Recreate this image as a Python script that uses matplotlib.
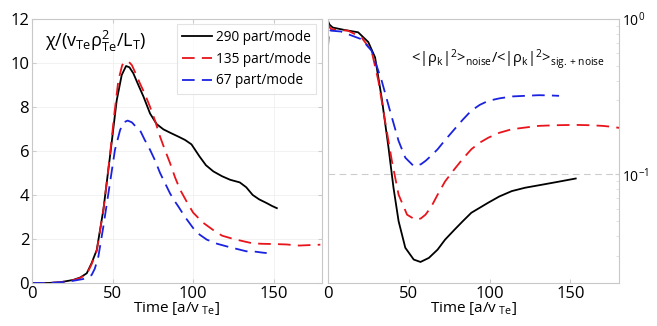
import numpy as np
import matplotlib.pyplot as plt

plt.rcParams['font.family'] = ['Open Sans', 'DejaVu Sans']
plt.rcParams['mathtext.fontset'] = 'custom'
plt.rcParams['mathtext.rm'] = 'Open Sans'
plt.rcParams['mathtext.it'] = 'Open Sans'

# 左图: chi 随时间变化
t_290 = [0, 10, 17.4, 25.7, 30, 34, 37, 40.2, 44.3, 48.4, 52.6, 55.7, 58.4, 60.5, 62.9, 66, 69.2, 73.3, 77.4,
         81.6, 86, 90.9, 95, 99, 104, 108, 112.6, 118, 123, 129, 133, 137, 141, 145.7, 149, 152]
chi_290 = [0, 0, 0.03, 0.14, 0.25, 0.44, 0.9, 1.5, 3.32, 5.74, 8.3, 9.45, 9.86, 9.8, 9.53, 9.0, 8.47, 7.7, 7.22,
           6.98, 6.82, 6.65, 6.5, 6.3, 5.75, 5.35, 5.07, 4.85, 4.69, 4.57, 4.35, 4.0, 3.8, 3.63, 3.5, 3.4]
t_135 = [0, 10, 17.4, 25.7, 30, 34, 37, 40.2, 44.3, 48.4, 51, 53.6, 56, 58, 60, 62, 64.5, 67, 70, 73.3, 76.5,
         79.5, 82.5, 85.7, 88.8, 92, 96, 100, 106, 112.6, 118, 125, 131, 137, 143, 150, 158, 166, 172, 179]
chi_135 = [0, 0, 0.03, 0.13, 0.23, 0.4, 0.85, 1.45, 3.3, 5.8, 7.6, 9.2, 9.9, 10.06, 10.06, 9.9, 9.5, 9.07, 8.6,
           8.0, 7.35, 6.65, 6.05, 5.45, 4.8, 4.23, 3.7, 3.2, 2.75, 2.4, 2.15, 2.0, 1.9, 1.8, 1.78, 1.77, 1.75,
           1.7, 1.72, 1.74]
t_67 = [0, 10, 17.4, 25.7, 31.8, 35, 37, 39, 41.2, 44.3, 48.4, 51.5, 54.7, 57, 59.4, 62, 64.5, 67, 70, 73.3,
        76.5, 79.5, 82.5, 85.7, 88.3, 90.9, 95, 100, 104, 108.5, 115, 121, 127, 133, 139, 143, 145.7]
chi_67 = [0, 0, 0.03, 0.1, 0.18, 0.28, 0.36, 0.65, 1.2, 2.56, 4.54, 6.05, 6.95, 7.3, 7.38, 7.3, 7.1, 6.95, 6.5,
          6.05, 5.55, 5.0, 4.55, 4.07, 3.75, 3.47, 3.0, 2.5, 2.2, 1.97, 1.78, 1.66, 1.55, 1.44, 1.42, 1.38, 1.36]

# 右图: 噪声比例
r_t290 = [0, 1, 3, 10, 18.75, 25, 29.2, 33.3, 37.5, 40.6, 43.75, 47.9, 53.1, 57.3, 62.5, 67.9, 72.5, 78.3,
          83.5, 88.75, 94, 99.2, 106, 113.75, 122, 130.4, 141, 153.3]
r_290 = [0.975, 0.92, 0.88, 0.85, 0.82, 0.71, 0.566, 0.31, 0.149, 0.082, 0.05, 0.0337, 0.0283, 0.0273, 0.029,
         0.0328, 0.038, 0.044, 0.05, 0.0566, 0.061, 0.0657, 0.072, 0.078, 0.082, 0.085, 0.089, 0.094]
r_t135 = [0, 0.5, 2, 6, 12.5, 20.8, 27, 31.25, 35.4, 39.6, 43.75, 49, 54.2, 57.5, 60.4, 64, 67.9, 72.5, 78.3,
          83.5, 88.75, 94, 99.2, 106, 113.75, 122, 130.4, 141, 153.3, 162, 170, 176, 182]
r_135 = [0.95, 0.9, 0.86, 0.85, 0.84, 0.76, 0.625, 0.40, 0.22, 0.122, 0.074, 0.055, 0.051, 0.052, 0.055,
         0.062, 0.074, 0.09, 0.108, 0.126, 0.145, 0.16, 0.172, 0.185, 0.195, 0.2, 0.205, 0.207, 0.208, 0.207,
         0.205, 0.202, 0.198]
r_t67 = [0, 0.8, 2, 8, 20.8, 27, 33.3, 38.5, 43.75, 47.9, 53.1, 57.5, 60.4, 64, 67.9, 72.5, 78.3, 83.5, 88.75,
         94, 99.2, 106, 113.75, 122, 130.4, 137, 143]
r_67 = [0.64, 0.85, 0.84, 0.83, 0.74, 0.625, 0.40, 0.255, 0.164, 0.128, 0.113, 0.116, 0.122, 0.132, 0.145,
        0.166, 0.195, 0.225, 0.257, 0.28, 0.297, 0.308, 0.317, 0.32, 0.323, 0.322, 0.32]

labels = ['290 part/mode', '135 part/mode', '67 part/mode']
colors = ['black', '#e8141b', '#1a22e0']
dash = (0, (7, 4))

fig = plt.figure(figsize=(6.57, 3.26), dpi=100)
ax1 = fig.add_axes([0.0487, 0.132, 0.4413, 0.810])
ax2 = fig.add_axes([0.499, 0.132, 0.443, 0.810])

ax1.plot(t_290, chi_290, color=colors[0], lw=1.3, label=labels[0])
ax1.plot(t_135, chi_135, color=colors[1], lw=1.3, ls=dash, label=labels[1])
ax1.plot(t_67, chi_67, color=colors[2], lw=1.3, ls=dash, label=labels[2])
ax1.set_xlim(0, 180)
ax1.set_ylim(0, 12)
ax1.set_xticks([0, 50, 100, 150])
ax1.set_yticks([0, 2, 4, 6, 8, 10, 12])
ax1.set_xlabel('Time [a/v$_{\\ \\rm Te}$]', fontsize=11, labelpad=-1)
ax1.text(0.045, 0.913, 'χ/(v$_{\\rm Te}$ρ$^{2}_{\\rm Te}$/L$_{\\rm T}$)',
         transform=ax1.transAxes, fontsize=13, va='center')
leg = ax1.legend(loc='upper right', fontsize=9.8, handlelength=2.2, handletextpad=0.3,
                 borderaxespad=0.4, fancybox=False, labelspacing=0.5)
leg.get_frame().set_edgecolor('#dddddd')
leg.get_frame().set_linewidth(0.8)

ax2.semilogy(r_t290, r_290, color=colors[0], lw=1.3)
ax2.semilogy(r_t135, r_135, color=colors[1], lw=1.3, ls=dash)
ax2.semilogy(r_t67, r_67, color=colors[2], lw=1.3, ls=dash)
ax2.set_xlim(0, 180)
ax2.set_ylim(0.02, 1)
ax2.set_xticks([0, 50, 100, 150])
ax2.set_yticks([0.1, 1])
ax2.set_yticklabels(['$10^{-1}$', '$10^{0}$'])
ax2.yaxis.set_ticks_position('right')
ax2.axhline(0.1, color='#cccccc', lw=0.8, ls=(0, (6, 4)), zorder=0)
ax2.set_xlabel('Time [a/v$_{\\ \\rm Te}$]', fontsize=11, labelpad=-1)
ax2.text(0.62, 0.845, '<|ρ$_{\\rm k}$|$^{2}$>$_{\\rm noise}$/<|ρ$_{\\rm k}$|$^{2}$>$_{\\rm sig.+noise}$',
         transform=ax2.transAxes, fontsize=10.5, ha='center', va='center')

for ax in (ax1, ax2):
    for s in ax.spines.values():
        s.set_color('#c8c8c8')
        s.set_linewidth(0.8)
    ax.tick_params(direction='in', length=3, color='#cccccc', labelsize=12, pad=2)
    ax.tick_params(which='minor', direction='in', length=2, color='#dddddd')
ax1.tick_params(top=True, right=True)
ax1.grid(True, color='#f0f0f0', lw=0.6)
ax2.tick_params(axis='y', labelsize=10)

fig.savefig('out.png', dpi=100)
